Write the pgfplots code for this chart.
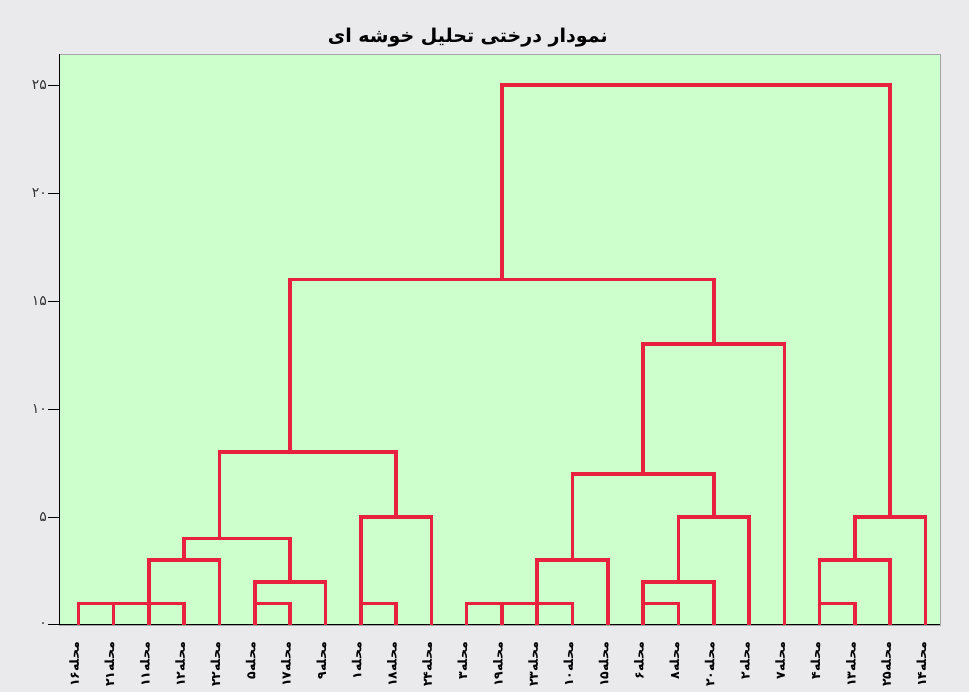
\documentclass[border=0pt]{standalone}
\usepackage{pgfplots}
\pgfplotsset{compat=1.18}
\usepackage{fontspec}
\setmainfont{DejaVu Sans}
\newfontfamily\arabicfont[Script=Arabic]{DejaVu Sans}
\TeXXeTstate=1
\definecolor{bggrey}{RGB}{234,234,236}
\definecolor{bggreen}{RGB}{204,255,204}
\definecolor{dred}{RGB}{232,34,62}
\newcommand{\ml}[1]{\mbox{\arabicfont\bfseries #1}\mbox{\arabicfont\bfseries محله}}
\begin{document}
\begin{tikzpicture}[x=1pt,y=1pt]
\useasboundingbox[fill=bggrey] (0,0) rectangle (969,692);
\begin{axis}[
  at={(59pt,67pt)}, anchor=south west,
  scale only axis, width=881pt, height=571pt,
  xmin=0.453, xmax=25.41, ymin=0, ymax=26.44,
  axis background/.style={fill=bggreen, draw=gray!70, line width=0.8pt},
  axis x line*=bottom, axis y line*=left,
  axis line style={black, line width=1pt},
  tick align=outside,
  xtick={1,...,25},
  xticklabels={\ml{۱۶},\ml{۲۱},\ml{۱۱},\ml{۱۲},\ml{۲۲},\ml{۵},\ml{۱۷},\ml{۹},\ml{۱},\ml{۱۸},\ml{۲۴},\ml{۳},\ml{۱۹},\ml{۲۳},\ml{۱۰},\ml{۱۵},\ml{۶},\ml{۸},\ml{۲۰},\ml{۲},\ml{۷},\ml{۴},\ml{۱۳},\ml{۲۵},\ml{۱۴}},
  xticklabel style={xshift=-4pt, yshift=-5pt, rotate=90, anchor=east, font=\fontsize{12.5}{15}\selectfont, inner sep=1pt},
  x tick style={draw=none},
  major tick length=11pt,
  ytick={0,5,10,15,20,25},
  yticklabels={۰,۵,۱۰,۱۵,۲۰,۲۵},
  yticklabel style={font=\arabicfont\fontsize{14}{16}\selectfont, inner sep=1pt, gray!40!black},
  y tick style={black, line width=1pt},
  title={\arabicfont\bfseries\beginR نمودار درختی تحلیل خوشه ای\endR},
  title style={at={(axis description cs:0.464,1)}, anchor=center, yshift=10pt, font=\fontsize{19}{22}\selectfont},
  dend/.style={dred, line width=3.6pt, line join=miter, mark=none, solid},
]
% left cluster
\addplot[dend] coordinates {(1,0)(1,1)(4,1)(4,0)};
\addplot[dend] coordinates {(2,0)(2,1)};
\addplot[dend] coordinates {(3,0)(3,3)(5,3)(5,0)};
\addplot[dend] coordinates {(4,3)(4,4)(7,4)(7,2)};
\addplot[dend] coordinates {(6,0)(6,2)(8,2)(8,0)};
\addplot[dend] coordinates {(6,1)(7,1)(7,0)};
\addplot[dend] coordinates {(5,4)(5,8)(10,8)(10,5)};
\addplot[dend] coordinates {(9,0)(9,5)(11,5)(11,0)};
\addplot[dend] coordinates {(9,1)(10,1)(10,0)};
\addplot[dend] coordinates {(7,8)(7,16)(19,16)(19,13)};
% middle cluster
\addplot[dend] coordinates {(12,0)(12,1)(15,1)(15,0)};
\addplot[dend] coordinates {(13,0)(13,1)};
\addplot[dend] coordinates {(14,0)(14,3)(16,3)(16,0)};
\addplot[dend] coordinates {(15,3)(15,7)(19,7)(19,5)};
\addplot[dend] coordinates {(17,0)(17,2)(19,2)(19,0)};
\addplot[dend] coordinates {(17,1)(18,1)(18,0)};
\addplot[dend] coordinates {(18,2)(18,5)(20,5)(20,0)};
\addplot[dend] coordinates {(17,7)(17,13)(21,13)(21,0)};
% top
\addplot[dend] coordinates {(13,16)(13,25)(24,25)(24,5)};
% right cluster
\addplot[dend] coordinates {(22,0)(22,3)(24,3)(24,0)};
\addplot[dend] coordinates {(22,1)(23,1)(23,0)};
\addplot[dend] coordinates {(23,3)(23,5)(25,5)(25,0)};
\end{axis}
\end{tikzpicture}
\end{document}
